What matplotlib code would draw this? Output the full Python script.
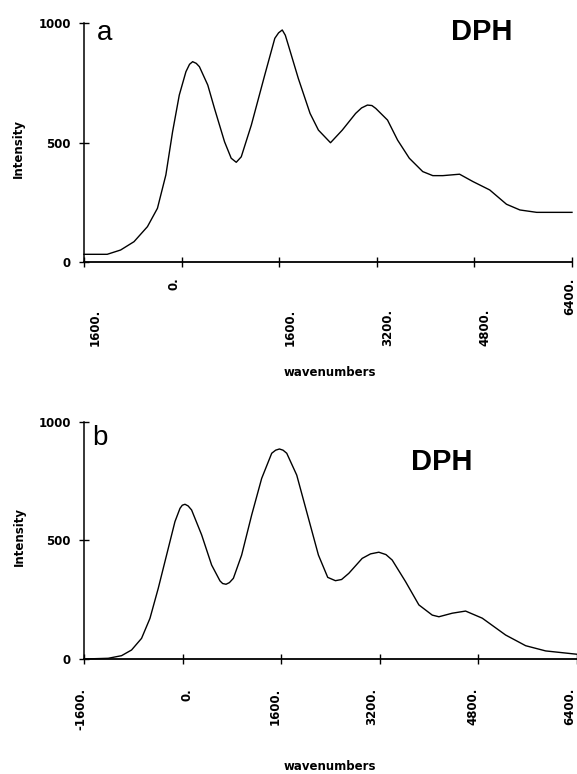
import matplotlib
matplotlib.use("Agg")
import matplotlib.pyplot as plt

# panel a spectrum
x_a = [-1600, -1220, -1000, -780, -560, -396, -258, -148, -38, 71, 130, 181,
       240, 292, 429, 539, 704, 813, 896, 978, 1143, 1363, 1528, 1590, 1650,
       1700, 1749, 1913, 2106, 2243, 2441, 2634, 2853, 2950, 3046, 3120, 3183,
       3376, 3541, 3733, 3953, 4118, 4283, 4557, 4777, 5051, 5326, 5546, 5821,
       6400]
y_a = [31, 31, 49, 84, 147, 224, 364, 545, 699, 797, 828, 839,
       832, 818, 741, 643, 503, 434, 417, 440, 573, 783, 937, 960, 972,
       950, 909, 769, 622, 552, 499, 552, 622, 645, 657, 655, 643,
       594, 510, 434, 378, 361, 361, 367, 336, 301, 241, 217, 207,
       207]

# panel b spectrum
x_b = [-1600, -1207, -991, -828, -666, -530, -395, -260, -124, -42, -5, 39,
       90, 146, 309, 471, 607, 650, 705, 760, 824, 958, 1121, 1283, 1446,
       1510, 1571, 1630, 1690, 1852, 2042, 2204, 2355, 2480, 2580, 2697, 2914,
       3050, 3184, 3300, 3401, 3618, 3834, 4051, 4159, 4376, 4592, 4863, 5242,
       5567, 5892, 6400]
y_b = [0, 3, 14, 38, 87, 171, 298, 438, 579, 635, 648, 652,
       645, 628, 523, 396, 329, 318, 315, 322, 340, 438, 607, 761, 867,
       880, 885, 880, 867, 775, 593, 438, 344, 330, 335, 361, 424,
       443, 450, 440, 417, 326, 228, 185, 178, 193, 202, 172, 101,
       56, 34, 20]

x_ticks = [-1600, 0, 1600, 3200, 4800, 6400]
x_labels_a = ["1600.", "0.", "1600.", "3200.", "4800.", "6400."]
x_labels_b = ["-1600.", "0.", "1600.", "3200.", "4800.", "6400."]
y_ticks = [0, 500, 1000]

W, H = 577, 774


def fx(px):
    return px / W


def fy(py):
    return 1 - py / H


bold = dict(family="DejaVu Sans", weight="bold", size=8.5)

fig = plt.figure(figsize=(W / 100, H / 100), dpi=100)
ax_a = fig.add_axes([fx(84), fy(261.7), (572 - 84) / W, (261.7 - 23.3) / H])
ax_b = fig.add_axes([fx(84), fy(659), (577 - 84) / W, (659 - 421.7) / H])

for ax, xs, ys in [(ax_a, x_a, y_a), (ax_b, x_b, y_b)]:
    ax.plot(xs, ys, color="black", lw=1.0, clip_on=False,
            solid_joinstyle="round")
    ax.set_xlim(-1600, 6400)
    ax.set_ylim(0, 1000)
    ax.spines["top"].set_visible(False)
    ax.spines["right"].set_visible(False)
    ax.spines["left"].set_linewidth(1.1)
    ax.spines["bottom"].set_linewidth(1.3)
    ax.set_xticks(x_ticks)
    ax.set_xticklabels([])
    ax.set_yticks(y_ticks)
    ax.set_yticklabels([str(v) for v in y_ticks], fontdict=bold)
    ax.tick_params(axis="y", direction="inout", length=7, width=1, pad=6)
    ax.tick_params(axis="x", direction="inout", length=7, width=1)

# x tick labels, panel a: staggered as in the print
offs_a = [(11, -84, "bottom"), (-8, -16, "top"), (11, -84, "bottom"),
          (11, -84, "bottom"), (11, -84, "bottom"), (-2, -16, "top")]
for t, lab, (dx, dy, va) in zip(x_ticks, x_labels_a, offs_a):
    ax_a.annotate(lab, xy=(t, 0), xycoords=("data", "axes fraction"),
                  xytext=(dx * 0.72, dy * 0.72), textcoords="offset points",
                  rotation=90, ha="center", va=va, annotation_clip=False,
                  **bold)

offs_b = [-3, 4, -6, -8, -5, -7]
for t, lab, dx in zip(x_ticks, x_labels_b, offs_b):
    ax_b.annotate(lab, xy=(t, 0), xycoords=("data", "axes fraction"),
                  xytext=(dx * 0.72, -29 * 0.72), textcoords="offset points",
                  rotation=90, ha="center", va="top", annotation_clip=False,
                  **bold)

# axis titles
fig.text(fx(330), fy(372), "wavenumbers", ha="center", va="center", **bold)
fig.text(fx(330), fy(766), "wavenumbers", ha="center", va="center", **bold)
fig.text(fx(18), fy(148), "Intensity", rotation=90, ha="center", va="center", **bold)
fig.text(fx(19), fy(536), "Intensity", rotation=90, ha="center", va="center", **bold)

# panel letters and compound name
fig.text(fx(97), fy(40), "a", family="Liberation Sans", size=20, va="baseline")
fig.text(fx(92), fy(445), "b", family="Liberation Sans", size=20, va="baseline")
fig.text(fx(451), fy(40), "DPH", family="Liberation Sans", weight="bold",
         size=21, va="baseline")
fig.text(fx(411), fy(470), "DPH", family="Liberation Sans", weight="bold",
         size=21, va="baseline")

fig.savefig("out.png", dpi=100)
